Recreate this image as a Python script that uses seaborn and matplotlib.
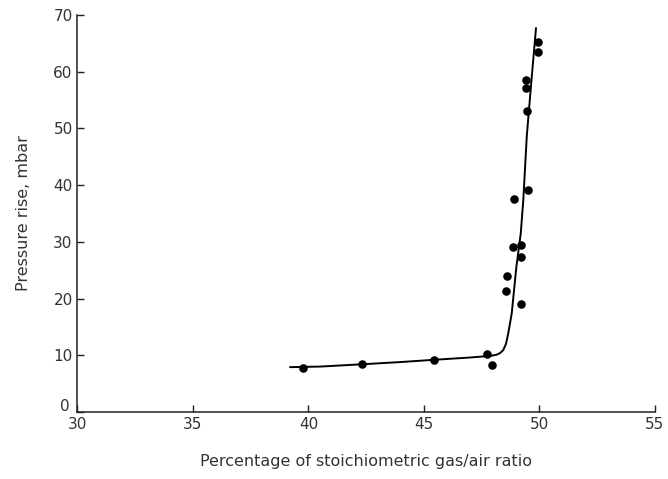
import matplotlib
matplotlib.use("Agg")
import matplotlib.pyplot as plt
import matplotlib.transforms as mtransforms
import seaborn as sns
import pandas as pd

# Measured data points
ratio_pct = [39.78, 42.3, 45.45, 47.71, 47.96, 48.54, 48.59, 48.84, 48.88,
             49.18, 49.2, 49.18, 49.52, 49.45, 49.42, 49.42, 49.92, 49.92]
pressure = [7.8, 8.4, 9.2, 10.2, 8.2, 21.3, 23.9, 29.0, 37.6,
            29.5, 27.3, 19.1, 39.1, 53.1, 58.5, 57.1, 65.3, 63.5]

# Fitted curve
curve_x = [39.2, 40.5, 42.3, 44.0, 45.45, 47.0, 47.9, 48.15, 48.3, 48.43,
           48.55, 48.65, 48.8, 49.0, 49.19, 49.3, 49.45, 49.63, 49.85]
curve_y = [7.9, 8.0, 8.4, 8.8, 9.2, 9.6, 9.9, 10.1, 10.4, 10.9,
           12.0, 13.9, 17.4, 25.6, 31.5, 37.4, 48.6, 57.4, 67.7]

x_ticks = [30, 35, 40, 45, 50, 55]
y_ticks = [0, 10, 20, 30, 40, 50, 60, 70]

sns.set_theme(style="ticks")
plt.rcParams["font.family"] = ["DejaVu Sans"]

fig = plt.figure(figsize=(6.68, 4.79), dpi=100)
ax = fig.add_axes([0.116, 0.140, 0.8645, 0.8287])

pts = pd.DataFrame({"x": ratio_pct, "y": pressure})
crv = pd.DataFrame({"x": curve_x, "y": curve_y})

sns.lineplot(data=crv, x="x", y="y", ax=ax, color="black", linewidth=1.4,
             sort=False, estimator=None)
sns.scatterplot(data=pts, x="x", y="y", ax=ax, color="black", s=38,
                edgecolor="black", linewidth=0, zorder=3)

ax.set_xlim(30, 55)
ax.set_ylim(0, 70)
ax.set_xticks(x_ticks)
ax.set_yticks(y_ticks)
ax.tick_params(direction="in", length=5, width=1, labelsize=11,
               labelcolor="#333333", color="#222222")
for s in ["top", "right"]:
    ax.spines[s].set_visible(False)
for s in ["left", "bottom"]:
    ax.spines[s].set_color("#222222")
    ax.spines[s].set_linewidth(1.1)

# Nudge the "0" label up-left so it does not collide with "30"
fig.canvas.draw()
zero_lbl = ax.get_yticklabels()[0]
zero_lbl.set_transform(zero_lbl.get_transform() +
                       mtransforms.ScaledTranslation(-2 / 72, 5 / 72, fig.dpi_scale_trans))

ax.set_xlabel("Percentage of stoichiometric gas/air ratio", fontsize=11.5,
              color="#333333", labelpad=16)
ax.set_ylabel("Pressure rise, mbar", fontsize=11.5, color="#333333",
              labelpad=16)

fig.savefig("out.png", dpi=100)
